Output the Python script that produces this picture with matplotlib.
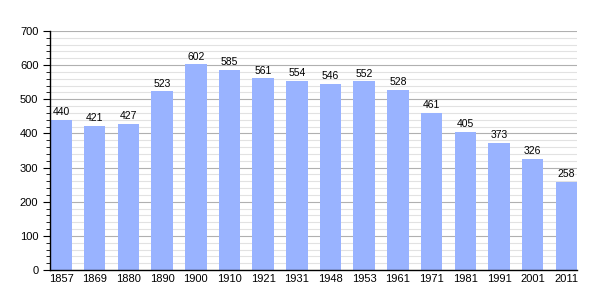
import matplotlib.pyplot as plt
from matplotlib.ticker import MultipleLocator

years = ['1857', '1869', '1880', '1890', '1900', '1910', '1921', '1931',
         '1948', '1953', '1961', '1971', '1981', '1991', '2001', '2011']
population = [440, 421, 427, 523, 602, 585, 561, 554, 546, 552, 528, 461, 405, 373, 326, 258]

BAR_COLOR = '#99b3ff'
WIDTH = 0.64

plt.rcParams['font.family'] = ['Liberation Sans', 'DejaVu Sans']

fig = plt.figure(figsize=(6.05, 3.0), dpi=100)
ax = fig.add_axes([0.083, 0.1, 0.871, 0.797])

x = range(len(years))
ax.bar(x, population, width=WIDTH, color=BAR_COLOR, zorder=2)
for i, v in zip(x, population):
    ax.annotate(str(v), (i, v), textcoords="offset points", xytext=(0, 2),
                ha='center', va='bottom', fontsize=7.5)

ax.set_xlim(-WIDTH / 2, len(years) - 1 + WIDTH / 2)
ax.set_ylim(0, 700)
ax.set_xticks(list(x))
ax.set_xticklabels(years, fontsize=8)
ax.yaxis.set_major_locator(MultipleLocator(100))
ax.yaxis.set_minor_locator(MultipleLocator(20))
ax.tick_params(axis='y', which='major', labelsize=8, length=5, width=0.8)
ax.tick_params(axis='y', which='minor', length=3, width=0.6)
ax.tick_params(axis='x', length=0, pad=3)

ax.grid(axis='y', which='major', color='#b0b0b0', linewidth=0.8, zorder=0)
ax.grid(axis='y', which='minor', color='#e2e2e2', linewidth=0.8, zorder=0)
ax.set_axisbelow(True)

for side in ('top', 'right'):
    ax.spines[side].set_visible(False)
ax.spines['left'].set_linewidth(1.0)
ax.spines['bottom'].set_linewidth(1.0)

fig.savefig('out.png', dpi=100)
